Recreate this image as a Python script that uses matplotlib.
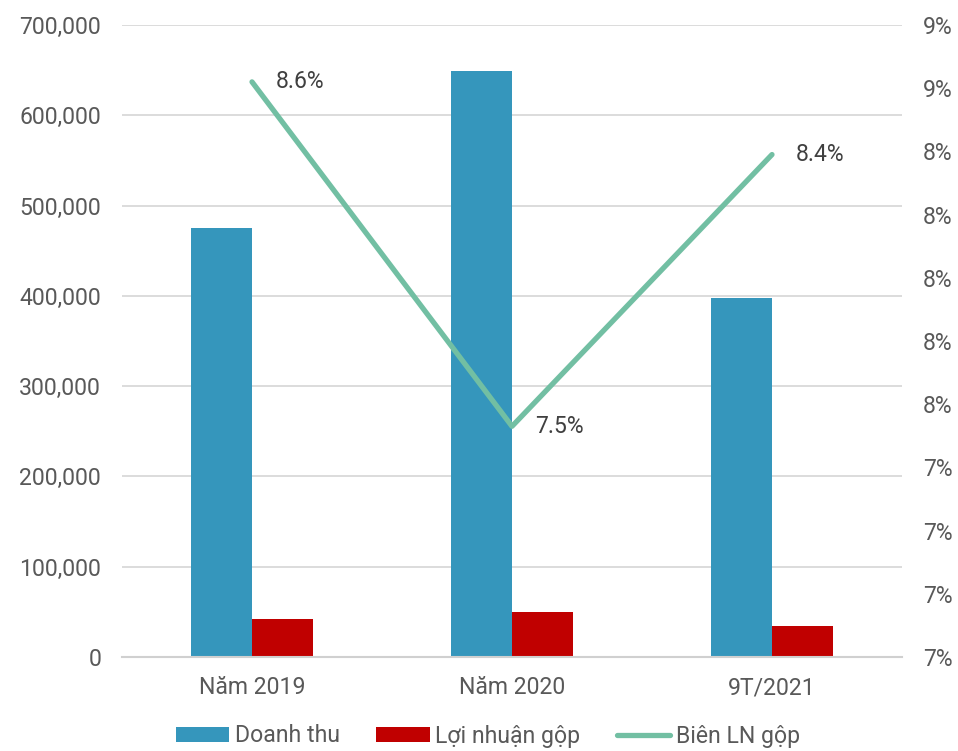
import numpy as np
import matplotlib
matplotlib.use('Agg')
from matplotlib import pyplot as plt
from matplotlib.ticker import FuncFormatter, MultipleLocator

plt.rcParams['font.family'] = ['Roboto', 'DejaVu Sans']

# data
categories = ['Năm 2019', 'Năm 2020', '9T/2021']
doanh_thu = [475000, 649000, 397500]
loi_nhuan = [42000, 50000, 34500]
bien_ln = [8.62, 7.53, 8.39]  # %

blue = '#3596BC'
red = '#C00000'
teal = '#72BFA3'
grey_txt = '#595959'
fs = 16.6

fig = plt.figure(figsize=(9.58, 7.51), dpi=100)
ax = fig.add_axes([122 / 958, 1 - 657 / 751, 780 / 958, 632 / 751])
ax2 = ax.twinx()

x = np.arange(len(categories))
w = 0.235
ax.bar(x - w / 2, doanh_thu, w, color=blue, label='Doanh thu', zorder=2)
ax.bar(x + w / 2, loi_nhuan, w, color=red, label='Lợi nhuận gộp', zorder=2)

ax.set_xlim(-0.5, 2.5)
ax.set_ylim(0, 700000)
ax.yaxis.set_major_locator(MultipleLocator(100000))
ax.yaxis.set_major_formatter(FuncFormatter(lambda v, p: f'{v:,.0f}'))
ax.grid(axis='y', color='#D9D9D9', linewidth=1.3, zorder=0)
ax.set_axisbelow(True)
ax.set_xticks(x)
ax.set_xticklabels(categories)

ln, = ax2.plot(x, bien_ln, color=teal, linewidth=3.8, solid_capstyle='round',
               label='Biên LN gộp', zorder=3)
ax2.set_ylim(6.8, 8.8)
ax2.yaxis.set_major_locator(MultipleLocator(0.2))
ax2.yaxis.set_major_formatter(FuncFormatter(lambda v, p: f'{v + 1e-9:.0f}%'))

for xi, v in zip(x, bien_ln):
    ax2.annotate(f'{v:.1f}%', (xi, v), xytext=(17, 0), textcoords='offset points',
                 ha='left', va='center', fontsize=fs, color='#404040')

for a in (ax, ax2):
    for s in a.spines.values():
        s.set_visible(False)
    a.tick_params(length=0, labelsize=fs, labelcolor=grey_txt)
ax.spines['bottom'].set_visible(True)
ax.spines['bottom'].set_color('#D0D0D0')
ax.spines['bottom'].set_linewidth(1.5)
ax.tick_params(axis='y', pad=15)
ax.tick_params(axis='x', pad=14)
ax2.tick_params(axis='y', pad=15)

h1, l1 = ax.get_legend_handles_labels()
fig.legend(h1 + [ln], l1 + ['Biên LN gộp'], loc='center', ncol=3,
           bbox_to_anchor=(488 / 958, 1 - 736 / 751), frameon=False,
           fontsize=fs, labelcolor=grey_txt, handlelength=2.3, handleheight=0.6,
           handletextpad=0.25, columnspacing=1.6, borderpad=0.1)

fig.savefig('out.png', dpi=100)
